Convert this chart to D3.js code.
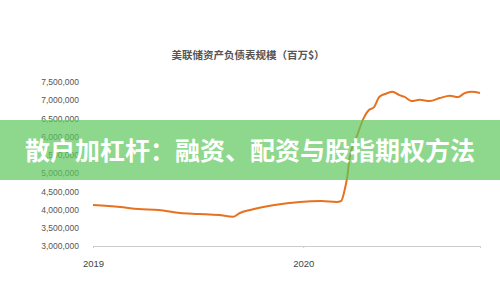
<!DOCTYPE html>
<html>
<head>
<meta charset="utf-8">
<title>美联储资产负债表规模</title>
<script src="https://d3js.org/d3.v7.min.js"></script>
<style>
	body {
		margin: 0;
		background: #fff;
		font-family: "Noto Sans CJK SC", "Noto Sans", sans-serif;
	}

	.axis text {
		fill: #555;
		font-size: 8.5px;
		font-family: "Liberation Sans", Arial, sans-serif;
	}

	.line {
		fill: none;
		stroke: #e8711f;
		stroke-width: 2px;
		stroke-linejoin: round;
	}
</style>
</head>
<body>
<script>
	var width = 500,
			height = 300;

	// weekly-ish readings
	var dates = [
		"2019-01-01", "2019-02-17", "2019-03-21", "2019-04-25", "2019-06-01", "2019-07-04",
		"2019-08-08", "2019-09-01", "2019-09-13", "2019-10-01", "2019-11-12", "2019-12-26",
		"2020-02-01", "2020-02-28", "2020-03-07", "2020-03-13", "2020-03-18", "2020-03-21",
		"2020-04-04", "2020-04-15", "2020-04-24", "2020-05-03", "2020-05-12", "2020-05-22",
		"2020-06-04", "2020-06-16", "2020-06-25", "2020-07-07", "2020-07-21", "2020-08-08",
		"2020-08-25", "2020-09-12", "2020-09-26", "2020-10-08", "2020-10-20", "2020-11-03"
	];
	var values = [
		4125000, 4070000, 4015000, 3990000, 3905000, 3880000,
		3850000, 3800000, 3905000, 3990000, 4125000, 4210000,
		4235000, 4210000, 4235000, 4540000, 4950000, 5360000,
		6050000, 6510000, 6730000, 6810000, 7090000, 7170000,
		7230000, 7140000, 7090000, 6980000, 7010000, 6980000,
		7060000, 7120000, 7090000, 7200000, 7230000, 7200000
	];
	var yTicks = [3000000, 3500000, 4000000, 4500000, 5000000, 5500000, 6000000, 6500000, 7000000, 7500000];
	var xTicks = ["2019-01-01", "2020-01-01"];

	var chartTitle = "美联储资产负债表规模（百万$）";
	var bannerText = "散户加杠杆：融资、配资与股指期权方法";

	var parse = d3.timeParse("%Y-%m-%d");
	var data = dates.map(function(d, i) {
		return { date: parse(d), value: values[i] };
	});

	var x = d3.scaleTime()
			.domain([parse("2019-01-01"), parse("2020-11-03")])
			.range([93, 480]);

	var y = d3.scaleLinear()
			.domain([3000000, 7500000])
			.range([246, 82]);

	var svg = d3.select("body").append("svg")
			.attr("width", width)
			.attr("height", height);

	svg.append("text")
			.attr("x", 248)
			.attr("y", 59)
			.attr("text-anchor", "middle")
			.style("font-size", "10.5px")
			.style("font-weight", "bold")
			.style("fill", "#555")
			.text(chartTitle);

	// y axis, labels only
	var yAxis = svg.append("g")
			.attr("class", "axis")
			.attr("transform", "translate(81,0)")
			.call(d3.axisLeft(y)
				.tickValues(yTicks)
				.tickSize(0)
				.tickPadding(2)
				.tickFormat(d3.format(",")));
	yAxis.select(".domain").remove();

	// x axis
	var xAxis = svg.append("g")
			.attr("class", "axis")
			.attr("transform", "translate(0,246)")
			.call(d3.axisBottom(x)
				.tickValues(xTicks.map(parse))
				.tickSizeOuter(0)
				.tickSize(2)
				.tickPadding(12)
				.tickFormat(d3.timeFormat("%Y")));
	xAxis.select(".domain").attr("stroke", "#ccc");
	xAxis.selectAll(".tick line").attr("stroke", "#ccc");
	xAxis.selectAll(".tick text").style("font-size", "9.5px").style("fill", "#444");

	var line = d3.line()
			.curve(d3.curveMonotoneX)
			.x(function(d) { return x(d.date); })
			.y(function(d) { return y(d.value); });

	svg.append("path")
			.datum(data)
			.attr("class", "line")
			.attr("d", line);

	// green banner over the chart
	svg.append("rect")
			.attr("x", 0)
			.attr("y", 120)
			.attr("width", width)
			.attr("height", 60)
			.attr("fill", "#5cc85c")
			.attr("opacity", 0.7);

	svg.append("text")
			.attr("x", 250)
			.attr("y", 160)
			.attr("text-anchor", "middle")
			.style("font-size", "25px")
			.style("font-weight", "bold")
			.style("fill", "#fff")
			.text(bannerText);
</script>
</body>
</html>
